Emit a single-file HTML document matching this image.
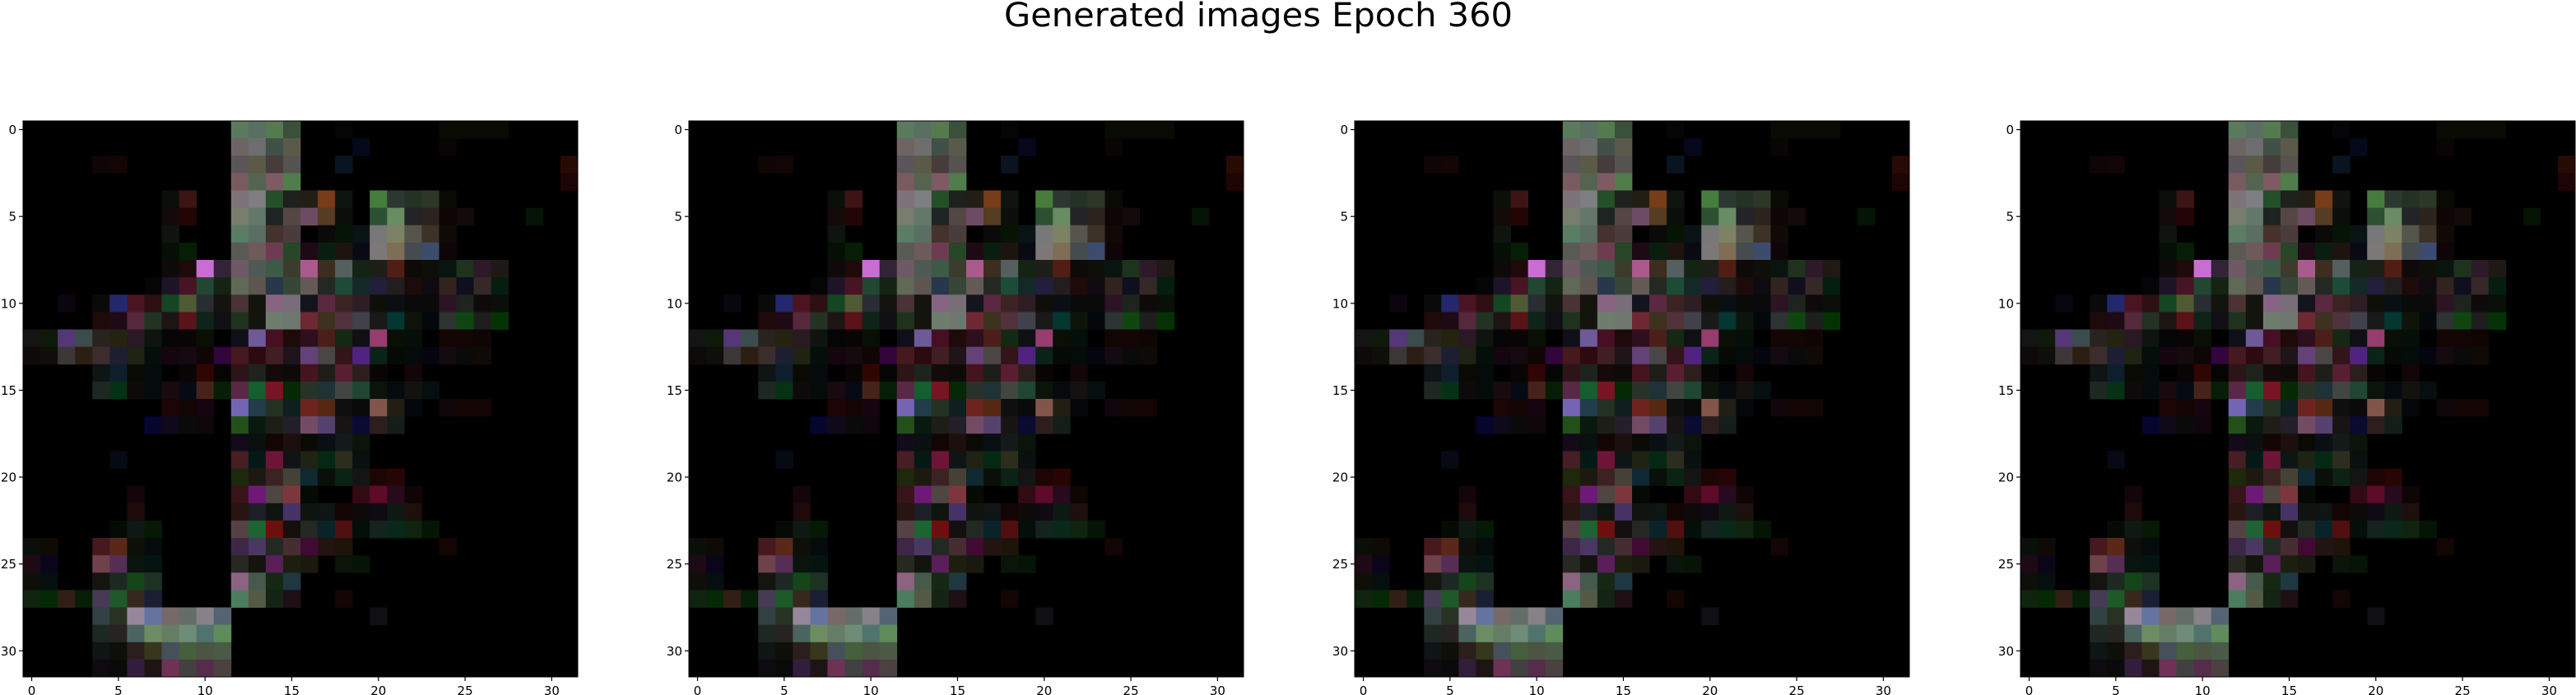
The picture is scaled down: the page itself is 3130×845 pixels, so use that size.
<!DOCTYPE html>
<html><head><meta charset="utf-8"><style>
html,body{margin:0;padding:0;background:#fff;}
svg{display:block;}
</style></head><body>
<svg id="fig" width="3130" height="845" xmlns="http://www.w3.org/2000/svg" style="font-family:'DejaVu Sans','Liberation Sans',sans-serif">
<rect width="3130" height="845" fill="#fff"/>
<text x="1529" y="32" font-size="40" text-anchor="middle" textLength="618" lengthAdjust="spacingAndGlyphs" fill="#000">Generated images Epoch 360</text>
</svg>
<script>
const tickValues = [0,5,10,15,20,25,30];
const panelCount = [0,1,2,3];
const row00 = "12:5a7a5e 13:5a6e62 14:557a50 15:3a503a 18:050508 24:0a0a05 25:0a0a05 26:0a0a05 27:0a0a05";
const row01 = "12:6e6464 13:6e6e6e 14:405048 15:5a5a4a 19:05081a 24:0a0505";
const row02 = "4:0f0505 5:140505 12:5a555a 13:5a5a46 14:463c3c 15:555250 18:0a1420 31:280a05";
const row03 = "12:785a5f 13:556450 14:7d5a64 15:507d4b 31:1e0505";
const row04 = "8:0a0f0a 9:3c1414 12:7d7378 13:7d7d82 14:235028 15:1e201e 16:231e14 17:783c19 18:0f140f 20:467d3c 21:2d3732 22:233223 23:2d3728 24:0a0a05";
const row05 = "8:140a0a 9:230505 12:787d6e 13:647869 14:1e2323 15:554646 16:6e4b64 17:553c23 18:0a0f0a 20:2d5032 21:698c64 22:232328 23:2d231e 24:0f0505 25:140a0a 29:051405";
const row06 = "8:0f140f 12:5a7d64 13:5a6e64 14:46322d 15:4b3c3c 17:0a0a0a 18:051405 19:0a1414 20:787878 21:7d8264 22:55554b 23:3c3228 24:0f0a05";
const row07 = "8:050f05 9:051e05 12:5a5a55 13:6e5a5a 14:6e3c50 15:284628 16:1e0a14 17:0a1e0f 18:1e140f 19:0a0a14 20:7d7878 21:7d6e55 22:464b50 23:3c4b6e 24:0f0508";
const row08 = "8:0f0a0a 9:1e0a0a 10:c86ed2 11:322337 12:6e5a64 13:505a55 14:3c5a46 15:3c3c2d 16:aa5a8c 17:3c2d1e 18:555f5f 19:142314 20:1e1e19 21:501e14 22:0f0a0a 23:0f0f0a 24:0a140f 25:1e321e 26:2d1928 27:1e1914";
const row09 = "7:050508 8:1e1428 9:461423 10:234632 11:142314 12:5f6955 13:5f5550 14:28374b 15:374637 16:645a55 17:232823 18:1e4b37 19:142828 20:231e3c 21:231e1e 22:1e0a0a 23:0f0a0f 24:32231e 25:0f0f1e 26:372828 27:051e0f";
const row10 = "2:0a050f 4:0a0a0a 5:23286e 6:4b1423 7:2d0f14 8:144623 9:505a32 10:282d32 11:14140f 12:4b3237 13:14140f 14:876482 15:786e78 16:14141e 17:5a2841 18:3c2323 19:2d1e23 20:0f0f0a 21:0a0f14 22:0a0a0a 23:0a0a0a 24:2d1423 25:1e231e 26:0f0a0a 27:0a0f0a";
const row11 = "4:1e0a0a 5:1e0a14 6:55283c 7:233223 8:1e1414 9:5a1419 10:0f2319 11:0f0f14 12:1e321e 13:14140f 14:6e7d6e 15:6e786e 16:6e2832 17:3c321e 18:50323c 19:41414b 20:191919 21:053732 22:0f140a 23:05080a 24:2d3232 25:0f460f 26:1e1e1e 27:053205";
const row12 = "0:141414 1:0f190a 2:553778 3:3c4b4b 4:28231e 5:23230f 6:281923 7:0f140f 8:050505 9:0a0505 10:0a0f05 12:0f0f19 13:6e5a96 14:460f23 15:1e0a0a 16:2d0f1e 17:4b1e19 18:142814 19:0f0f14 20:963c6e 21:0a0f05 22:050f0a 24:140505 25:140505 26:0f0505";
const row13 = "0:0f0a0a 1:0f0f0a 2:3c3737 3:2d1e14 4:3c2d2d 5:1e1e32 6:1e2314 7:050f0a 8:14050f 9:140a0f 10:0f0505 11:32053c 12:46191e 13:2d0a0f 14:411e23 15:1e1419 16:644178 17:4b4646 18:321419 19:502382 20:0a2319 21:050a05 22:050a0a 23:05050f 24:140a0f 25:0a0a0a 26:0f0a05";
const row14 = "4:0f1414 5:0f1e2d 6:0a0a05 7:050a0a 9:0a0505 10:320505 11:050505 12:2d1419 13:1e231e 14:140a0a 15:0f0a0a 16:46141e 17:1e1e19 18:5a1e32 19:2d1e1e 20:0a0505 22:140508";
const row15 = "4:1e2823 5:053214 6:0f0a0a 7:050a0a 8:190a0f 9:050a14 10:46231a 11:051e05 12:5a2846 13:145f2d 14:781423 15:052805 16:283228 17:1e3237 18:414641 19:1e4632 20:0a140a 21:050a0f 22:14120f 23:050f0f";
const row16 = "8:1e0505 9:140505 10:140510 12:7364b4 13:233c4b 14:233223 15:0f1e1e 16:6e231e 17:552814 18:0f0f0f 19:0a0a0a 20:82554b 21:231e14 22:05080a 24:0f050a 25:140505 26:140505";
const row17 = "7:05052d 8:0f0a19 9:0a0a0a 10:0f050a 12:235019 13:0a190f 14:1e1e19 15:231e28 16:734b64 17:55416e 18:191414 19:0a0a32 20:2d1e1e 21:141e19";
const row18 = "12:140a19 13:0a0f0f 14:140505 15:1e0f0f 16:0a0a05 17:0a0f14 18:141919 19:0a140a";
const row19 = "5:050a14 12:461e23 13:051914 14:6e1437 15:0f1414 16:1e2314 17:052814 18:2d2d1e 19:0a0f0f";
const row20 = "12:1e280a 13:1e1910 14:3c2323 15:464137 16:0f2832 17:0a0f0a 18:0a2314 19:141414 20:1e0505 21:280505";
const row21 = "6:14050a 12:371419 13:6e1978 14:504641 15:7d373c 16:050a05 19:320a14 20:5f0a28 21:280a1e 22:0f0505";
const row22 = "6:1e0a0a 12:281410 13:1e1e28 14:0f140f 15:463264 16:0f140f 17:0f1414 18:140505 19:0f0a0a 20:0f0a14 21:0f1914 22:1e0f0f";
const row23 = "5:050a05 6:0f1914 7:051905 12:554146 13:1e6432 14:6e0f0f 15:140f0f 16:232823 17:0a2328 18:500f0f 19:050f0a 20:142320 21:0a2819 22:0f230f 23:051405";
const row24 = "0:0a0f0a 1:0f0a05 4:46191e 5:5a2819 6:0f0f0a 7:050a0a 12:3c2846 13:4b3764 14:232823 15:462d32 16:410a32 17:231414 18:1e140a 24:140505";
const row25 = "0:1e0a14 1:0a0519 4:6e414b 5:552d55 6:0a140f 7:051410 12:282823 13:14140f 14:5a1e5a 15:1e1e0f 16:19190f 18:0a140a 19:051405";
const row26 = "0:0f0f0a 1:050f0f 4:141410 5:1e2823 6:144619 7:1e3223 12:8c6482 13:465a4b 14:142814 15:1e3741";
const row27 = "0:0f230f 1:052805 2:321e14 3:051e05 4:463a55 5:1e5a28 6:37281e 7:191e32 12:4b7d5f 13:555a46 14:142314 15:1e0f14 18:140505";
const row28 = "4:324141 5:283223 6:96879b 7:6473a0 8:786969 9:646e69 10:878287 11:556473 20:0f0f14";
const row29 = "4:1e2823 5:282323 6:4b645f 7:6e8c64 8:647d64 9:6e8c78 10:50736e 11:5f8c5a";
const row30 = "4:0f1414 5:0f0f0a 6:2d1e1e 7:37371e 8:46505a 9:465f3c 10:4b5541 11:4b5a46";
const row31 = "4:0f0a0f 5:0a0a0a 6:321e3c 7:1e1414 8:6e3255 9:414141 10:552d4b 11:4b4141";
const imageRows = [row00,row01,row02,row03,row04,row05,row06,row07,row08,row09,row10,row11,row12,row13,row14,row15,row16,row17,row18,row19,row20,row21,row22,row23,row24,row25,row26,row27,row28,row29,row30,row31];

const NS = "http://www.w3.org/2000/svg";
const svg = document.getElementById('fig');
const N = 32, PW = 674, PH = 676, TOP = 147, LEFT0 = 28, PITCH = 809;
function mk(tag, attrs){ const e=document.createElementNS(NS,tag); for(const k in attrs) e.setAttribute(k,attrs[k]); return e; }

panelCount.forEach(p=>{
  const x0 = LEFT0 + p*PITCH;
  const cw = PW/N, ch = PH/N;
  const xs = v => x0 + (v+0.5)*cw;
  const ys = v => TOP + (v+0.5)*ch;
  const g = mk('g',{});
  
  
  svg.appendChild(g);
  const bg = mk('rect',{x:x0,y:TOP,width:PW,height:PH,fill:'#000'});
  
  
  g.appendChild(bg);
  imageRows.forEach((row,r)=>{
    row.split(' ').forEach(tok=>{
      if(!tok) return;
      const [c,hex] = tok.split(':');
      const ci = +c;
      const cell = mk('rect',{x:(xs(ci)-cw/2).toFixed(2),y:(ys(r)-ch/2).toFixed(2),width:(cw+0.4).toFixed(2),height:(ch+0.4).toFixed(2),fill:'#'+hex});
      
      
      g.appendChild(cell);
    });
  });
  tickValues.forEach(t=>{
    const tx = xs(t);
    g.appendChild(mk('line',{x1:tx,x2:tx,y1:TOP+PH,y2:TOP+PH+5,stroke:'#000','stroke-width':1.2}));
    const lx = mk('text',{x:tx,y:TOP+PH+22,'font-size':15,'text-anchor':'middle',fill:'#000'});
    lx.textContent = t;
    
    
    g.appendChild(lx);
    const ty = ys(t);
    g.appendChild(mk('line',{x1:x0-5,x2:x0,y1:ty,y2:ty,stroke:'#000','stroke-width':1.2}));
    const ly = mk('text',{x:x0-8,y:ty+5.5,'font-size':15,'text-anchor':'end',fill:'#000'});
    ly.textContent = t;
    
    
    g.appendChild(ly);
  });
  const frame = mk('rect',{x:x0,y:TOP,width:PW,height:PH,fill:'none',stroke:'#000','stroke-width':1});
  
  
  g.appendChild(frame);
});
</script>
</body></html>
